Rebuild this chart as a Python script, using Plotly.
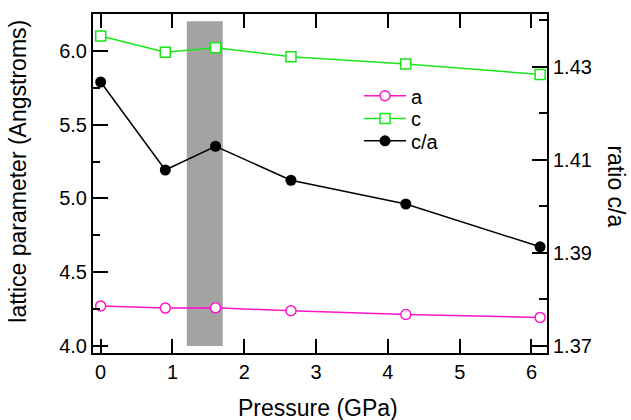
import plotly.graph_objects as go

pressure = [0.0, 0.9, 1.6, 2.65, 4.25, 6.12]
a_vals = [4.272, 4.257, 4.259, 4.239, 4.214, 4.194]
c_vals = [6.10, 5.99, 6.02, 5.96, 5.91, 5.84]
ca_vals = [1.4267, 1.4078, 1.4129, 1.4056, 1.4005, 1.3913]
band_x = [1.2, 1.7]
band_y = [4.0, 6.2]

FONT = "Liberation Sans, Arial, sans-serif"
PINK = "#ff14c8"
GREEN = "#18e618"

fig = go.Figure()
fig.add_trace(go.Scatter(x=pressure, y=a_vals, name="a", mode="lines+markers",
                         legend="legend",
                         line=dict(color=PINK, width=1.5),
                         marker=dict(symbol="circle", size=10, color="white",
                                     line=dict(color=PINK, width=1.5))))
fig.add_trace(go.Scatter(x=pressure, y=c_vals, name="c", mode="lines+markers",
                         legend="legend2",
                         line=dict(color=GREEN, width=1.5),
                         marker=dict(symbol="square", size=10, color="white",
                                     line=dict(color=GREEN, width=1.5))))
fig.add_trace(go.Scatter(x=pressure, y=ca_vals, name="c/a", mode="lines+markers",
                         yaxis="y2", legend="legend3",
                         line=dict(color="black", width=1.5),
                         marker=dict(symbol="circle", size=11, color="black")))

fig.add_shape(type="rect", xref="x", yref="y", x0=band_x[0], x1=band_x[1],
              y0=band_y[0], y1=band_y[1], fillcolor="#a3a3a3", line=dict(width=0),
              layer="below")

tickfont = dict(family=FONT, size=20, color="black")


def leg(yc):
    return dict(x=0.586, y=yc, xanchor="left", yanchor="middle",
                bgcolor="rgba(0,0,0,0)", font=dict(family=FONT, size=20),
                itemwidth=42)


fig.update_layout(
    width=631, height=420,
    margin=dict(l=93, r=84, t=12, b=67),
    paper_bgcolor="white", plot_bgcolor="white",
    font=dict(family=FONT, color="black"),
    showlegend=True,
    legend=leg(0.759),
    legend2=leg(0.692),
    legend3=leg(0.626),
    xaxis=dict(range=[-0.107, 6.216], tickmode="array", tickvals=[0, 1, 2, 3, 4, 5, 6],
               ticks="inside", ticklen=14, tickwidth=2, tickcolor="black",
               showline=True, linecolor="black", linewidth=2, mirror="ticks",
               showgrid=False, zeroline=False, tickfont=tickfont),
    yaxis=dict(range=[3.953, 6.249], tick0=4.0, dtick=0.5, tickformat=".1f",
               ticks="inside", ticklen=15, tickwidth=2, tickcolor="black",
               minor=dict(dtick=0.25, tick0=4.0, ticks="inside", ticklen=7,
                          tickwidth=2, tickcolor="black", showgrid=False),
               showline=True, linecolor="black", linewidth=2,
               showgrid=False, zeroline=False, tickfont=tickfont),
    yaxis2=dict(range=[1.3685, 1.4413], overlaying="y", side="right",
                tick0=1.37, dtick=0.02, tickformat=".2f",
                ticks="inside", ticklen=15, tickwidth=2, tickcolor="black",
                minor=dict(dtick=0.01, tick0=1.37, ticks="inside", ticklen=8,
                           tickwidth=2, tickcolor="black", showgrid=False),
                showline=True, linecolor="black", linewidth=2,
                showgrid=False, zeroline=False, tickfont=tickfont),
    annotations=[
        dict(text="Pressure (GPa)", xref="paper", yref="paper", x=0.495, y=-0.163,
             xanchor="center", yanchor="middle", showarrow=False,
             font=dict(family=FONT, size=23)),
        dict(text="lattice parameter (Angstroms)", xref="paper", yref="paper",
             x=-0.165, y=0.535, xanchor="center", yanchor="middle", textangle=-90,
             showarrow=False, font=dict(family=FONT, size=23)),
        dict(text="ratio c/a", xref="paper", yref="paper", x=1.153, y=0.49,
             xanchor="center", yanchor="middle", textangle=90,
             showarrow=False, font=dict(family=FONT, size=23)),
    ],
)

fig.write_html("out.html")
